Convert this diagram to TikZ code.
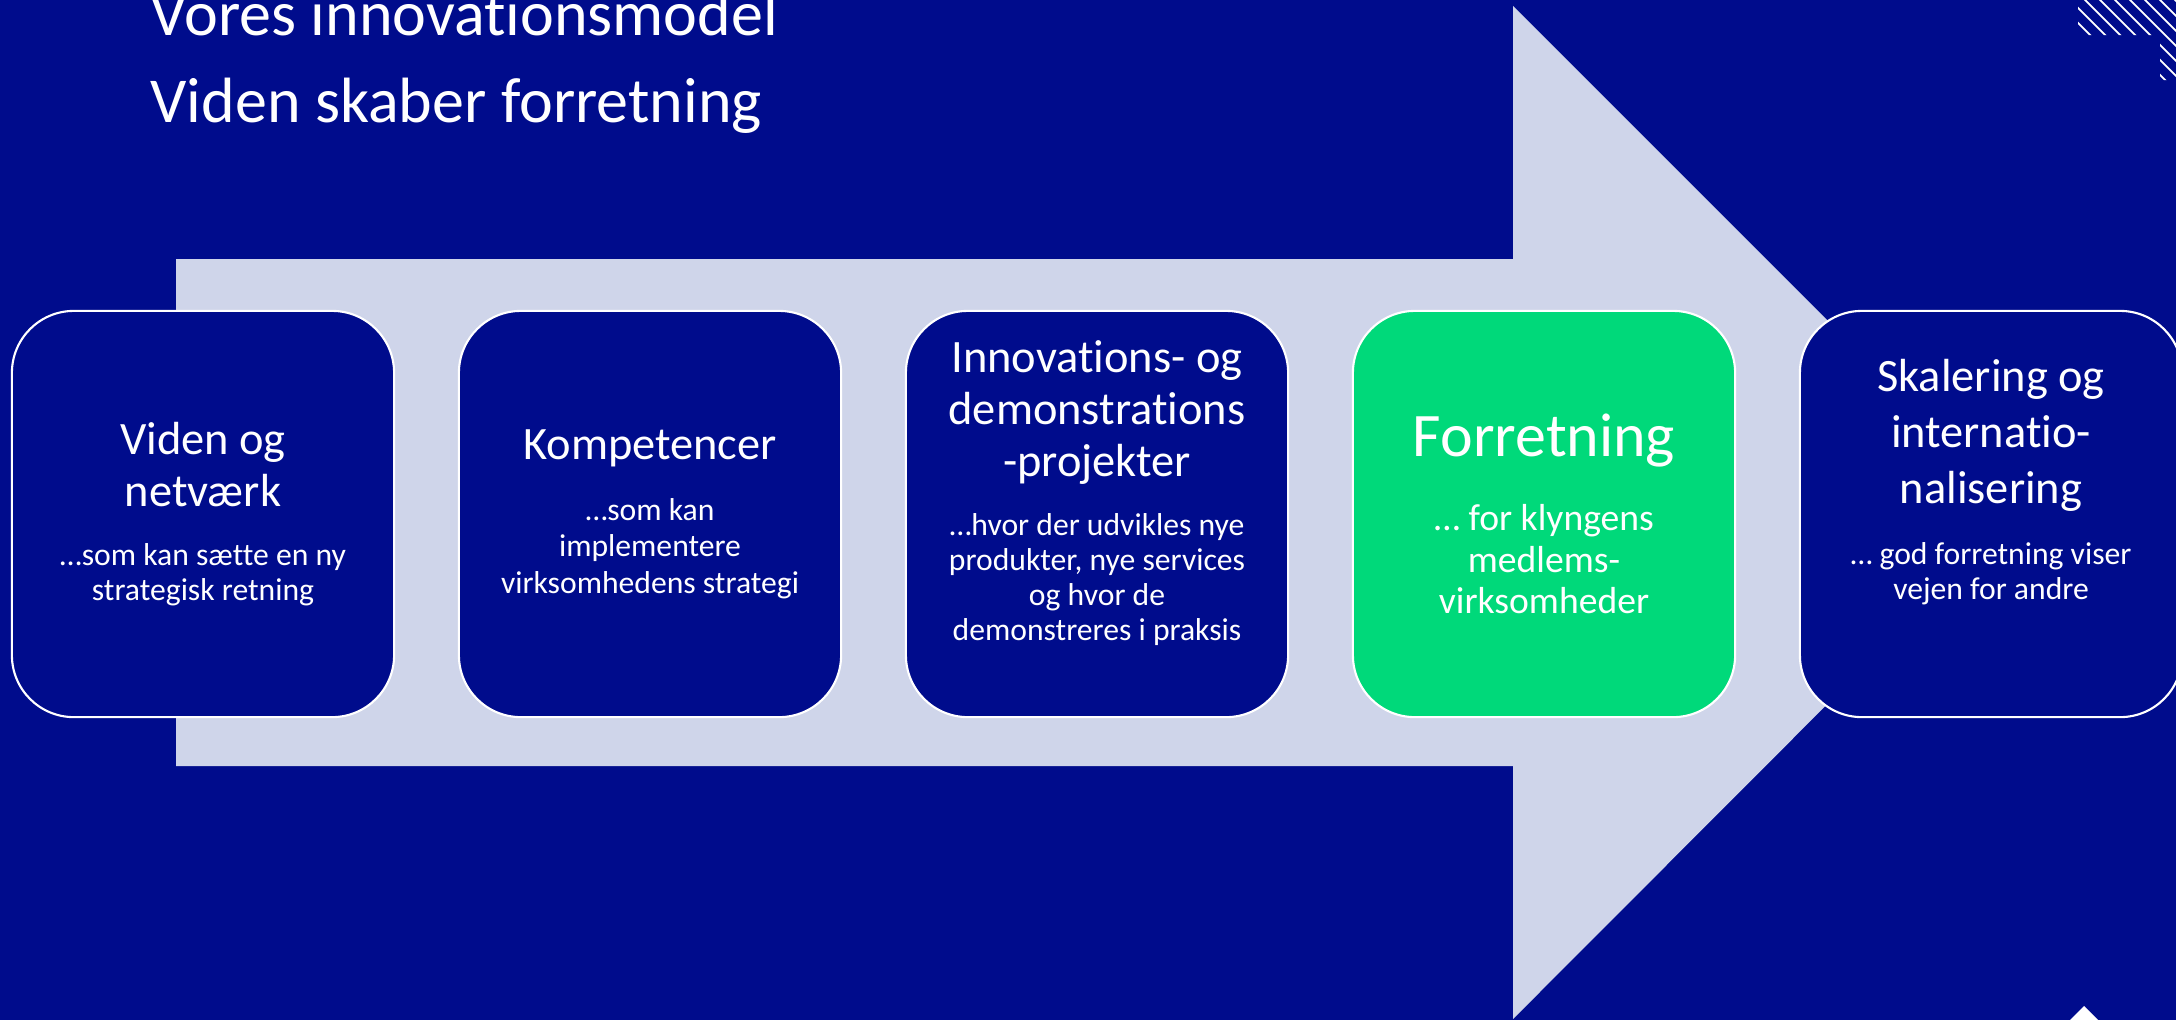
\documentclass[tikz,border=0pt]{standalone}
\usepackage{fontspec}
\setmainfont{Carlito}[Ligatures=NoCommon]
\usepackage{tikz}

\definecolor{navy}{RGB}{0,12,140}
\definecolor{pale}{RGB}{207,213,234}
\definecolor{mint}{RGB}{0,217,122}

\newcommand{\headfont}{\fontsize{18.2pt}{22pt}\selectfont}
\newcommand{\stagehead}{\fontsize{13.2pt}{14.8pt}\selectfont}
\newcommand{\stagesub}{\fontsize{9pt}{10pt}\selectfont}

\begin{document}
\begin{tikzpicture}[x=0.01cm, y=-0.01cm,
		stage/.style={draw=white, line width=0.6pt, fill=navy, rounded corners=0.62cm,
			minimum width=3.82cm, minimum height=4.06cm, text width=3.8cm,
			align=flush center, inner sep=0pt, text=white}]
	\fill[navy] (0,0) rectangle (2176,1020);
	\useasboundingbox (0,0) rectangle (2176,1020);
	% the big arrow behind the stages
	\fill[pale] (176,259) -- (1513,259) -- (1513,6) -- (2019,512) -- (1513,1019)
		-- (1513,766) -- (176,766) -- cycle;
	% hatching in the corner
	\begin{scope}
		\clip (2078,0) rectangle (2176,35) (2160,35) rectangle (2176,80);
		\foreach \k in {55,70,...,220}
			\draw[white, line width=0.5pt] (2000,-\k) -- (2250,250-\k);
	\end{scope}
	\fill[white] (2084,1006) -- (2100,1022) -- (2068,1022) -- cycle;

	\node[anchor=base west, text=white, inner sep=0pt] (title1) at (150,35) {\headfont Vores innovationsmodel};
	\node[anchor=base west, text=white, inner sep=0pt] (title2) at (150,122) {\headfont Viden skaber forretning};

	\node[stage] (viden) at (203,514)
		{{\stagehead Viden og\\netværk\par}\vspace{6.8pt}
		{\stagesub …som kan sætte en ny\\strategisk retning\par}};
	\node[stage] (kompetencer) at (650,514)
		{{\stagehead Kompetencer\par}\vspace{7.2pt}
		{\fontsize{9pt}{10.3pt}\selectfont …som kan\\implementere\\virksomhedens strategi\par}};
	\node[stage] (projekter) at (1097,514)
		{{\stagehead Innovations- og\\demonstrations\\-projekter\par}\vspace{6.8pt}
		{\stagesub …hvor der udvikles nye\\produkter, nye services\\og hvor de\\demonstreres i praksis\par}\vspace{12pt}};
	\node[stage, fill=mint] (forretning) at (1544,514)
		{{\fontsize{17.6pt}{20pt}\selectfont Forretning\par}\vspace{9.2pt}
		{\fontsize{10.7pt}{11.8pt}\selectfont … for klyngens\\medlems-\\virksomheder\par}};
	\node[stage] (skalering) at (1991,514)
		{{\fontsize{13.2pt}{15.9pt}\selectfont Skalering og\\internatio-\\nalisering\par}\vspace{7.3pt}
		{\stagesub … god forretning viser\\vejen for andre\par}\vspace{18pt}};
\end{tikzpicture}
\end{document}
